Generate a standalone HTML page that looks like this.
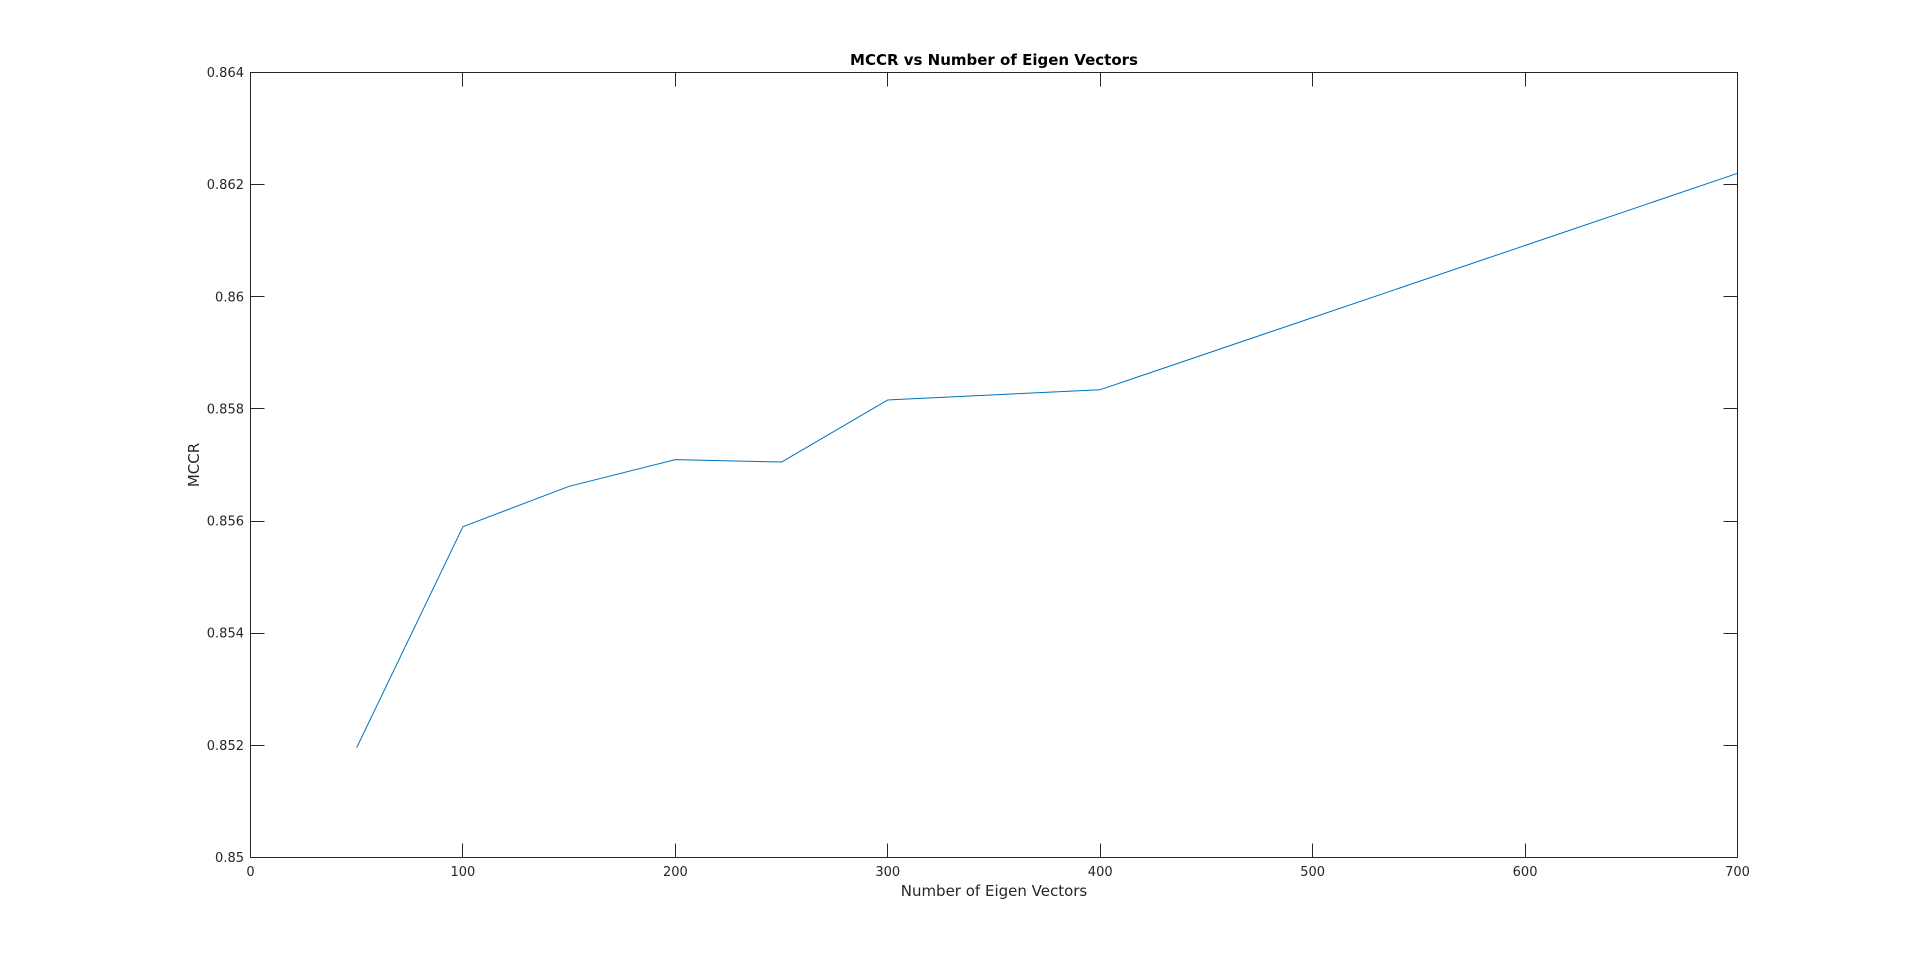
<!DOCTYPE html>
<html lang="en">
<head>
<meta charset="utf-8">
<title>MCCR vs Number of Eigen Vectors</title>
<style>
html,body{margin:0;padding:0;background:#fff;width:1920px;height:964px;overflow:hidden}
svg{display:block}
text{font-family:"DejaVu Sans",sans-serif;fill:#262626}
.tick{font-size:13px}
.label{font-size:15px}
.title{font-size:15px;font-weight:bold;fill:#000}
</style>
</head>
<body>
<svg id="chart" xmlns="http://www.w3.org/2000/svg" width="1920" height="964" viewBox="0 0 1920 964">
  <rect x="0" y="0" width="1920" height="964" fill="#ffffff"/>
  <text id="chart-title" class="title" x="994" y="65" text-anchor="middle">MCCR vs Number of Eigen Vectors</text>
  <text id="x-title" class="label" x="994" y="896" text-anchor="middle">Number of Eigen Vectors</text>
  <text id="y-title" class="label" transform="translate(199 465) rotate(-90)" text-anchor="middle">MCCR</text>
</svg>
<script>
var eigenVectorCounts = [50, 100, 150, 200, 250, 300, 400, 700];
var mccrValues = [0.85196, 0.8559, 0.85662, 0.857095, 0.857053, 0.85816, 0.858343, 0.862202];
var xTickValues = [0, 100, 200, 300, 400, 500, 600, 700];
var yTickValues = [0.85, 0.852, 0.854, 0.856, 0.858, 0.86, 0.862, 0.864];
var yTickLabels = ['0.85', '0.852', '0.854', '0.856', '0.858', '0.86', '0.862', '0.864'];

var svgNS = 'http://www.w3.org/2000/svg';
var chart = document.getElementById('chart');
var plotLeft = 250.5, plotRight = 1737.5, plotTop = 72.5, plotBottom = 857.5, tickLength = 14;
var xMin = 0, xMax = 700, yMin = 0.85, yMax = 0.864;

function xScale(v) {
  return plotLeft + (v - xMin) / (xMax - xMin) * (plotRight - plotLeft);
}
function yScale(v) {
  return plotBottom - (v - yMin) / (yMax - yMin) * (plotBottom - plotTop);
}
function snap(p) {
  return Math.floor(p) + 0.5;
}
function makeLine(x1, y1, x2, y2) {
  var l = document.createElementNS(svgNS, 'line');
  l.setAttribute('x1', x1);
  l.setAttribute('y1', y1);
  l.setAttribute('x2', x2);
  l.setAttribute('y2', y2);
  l.setAttribute('stroke', '#262626');
  l.setAttribute('stroke-width', '1');
  return l;
}
function makeText(str, x, y, anchor) {
  var t = document.createElementNS(svgNS, 'text');
  t.setAttribute('class', 'tick');
  t.setAttribute('x', x);
  t.setAttribute('y', y);
  t.setAttribute('text-anchor', anchor);
  t.textContent = str;
  return t;
}

var axesBox = document.createElementNS(svgNS, 'rect');


axesBox.setAttribute('x', plotLeft);
axesBox.setAttribute('y', plotTop);
axesBox.setAttribute('width', plotRight - plotLeft);
axesBox.setAttribute('height', plotBottom - plotTop);
axesBox.setAttribute('fill', 'none');
axesBox.setAttribute('stroke', '#262626');
axesBox.setAttribute('stroke-width', '1');
chart.appendChild(axesBox);

xTickValues.forEach(function (v) {
  var px = snap(xScale(v));
  if (v !== xMin && v !== xMax) {
    var bottomTick = makeLine(px, plotBottom, px, plotBottom - tickLength);
    
    
    chart.appendChild(bottomTick);
    var topTick = makeLine(px, plotTop, px, plotTop + tickLength);
    
    
    chart.appendChild(topTick);
  }
  var xLabel = makeText(String(v), xScale(v), 876, 'middle');
  
  
  chart.appendChild(xLabel);
});

yTickValues.forEach(function (v, i) {
  var py = snap(yScale(v));
  if (v !== yMin && v !== yMax) {
    var leftTick = makeLine(plotLeft, py, plotLeft + tickLength, py);
    
    
    chart.appendChild(leftTick);
    var rightTick = makeLine(plotRight, py, plotRight - tickLength, py);
    
    
    chart.appendChild(rightTick);
  }
  var yLabel = makeText(yTickLabels[i], 244, yScale(v) + 4.5, 'end');
  
  
  chart.appendChild(yLabel);
});

var linePoints = eigenVectorCounts.map(function (c, i) {
  return xScale(c).toFixed(2) + ',' + yScale(mccrValues[i]).toFixed(2);
}).join(' ');
var seriesLine = document.createElementNS(svgNS, 'polyline');


seriesLine.setAttribute('points', linePoints);
seriesLine.setAttribute('fill', 'none');
seriesLine.setAttribute('stroke', '#0072BD');
seriesLine.setAttribute('stroke-width', '1');
seriesLine.setAttribute('stroke-linejoin', 'round');
chart.appendChild(seriesLine);
</script>
</body>
</html>
